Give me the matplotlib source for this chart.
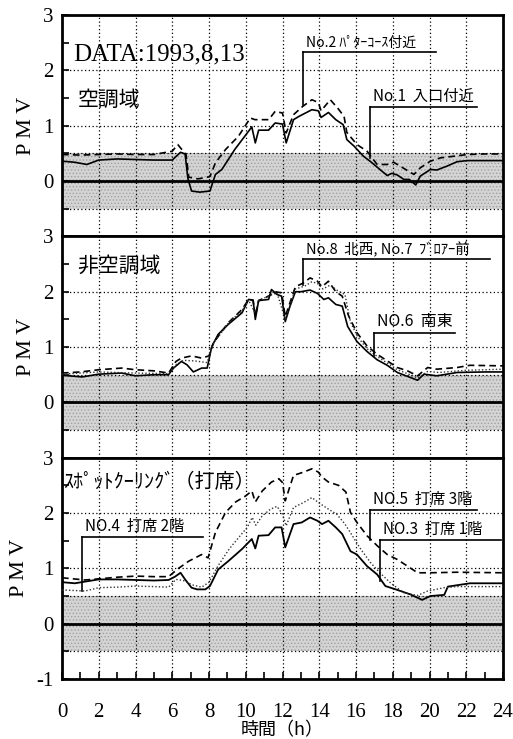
import matplotlib
matplotlib.use('Agg')
import matplotlib.pyplot as plt
from matplotlib.ticker import MultipleLocator

plt.rcParams['font.family'] = ['Noto Sans CJK JP', 'DejaVu Sans']
plt.rcParams['hatch.color'] = '#9a9a9a'
plt.rcParams['hatch.linewidth'] = 0.6

# 空調域
t_no1 = [0, 0.7, 1.35, 2.0, 3, 4, 5, 6.0, 6.45, 6.7, 6.85, 7.05, 7.5, 8.05, 8.35, 8.7, 9.4, 10.15, 10.33, 10.52,
         10.7, 11.24, 11.6, 12.0, 12.2, 12.6, 12.9, 13.6, 13.95, 14.1, 14.5, 14.9, 15.3, 15.5, 15.9, 16.4, 16.8,
         17.3, 17.7, 17.95, 18.25, 18.6, 18.9, 19.25, 19.5, 20.05, 20.4, 20.95, 21.5, 22.05, 23, 24]
v_no1 = [0.36, 0.34, 0.30, 0.38, 0.40, 0.39, 0.38, 0.38, 0.52, 0.49, 0.05, -0.18, -0.20, -0.18, 0.12, 0.21, 0.57,
         0.90, 0.98, 0.69, 0.92, 0.92, 1.05, 1.03, 0.69, 1.11, 1.17, 1.29, 1.27, 1.15, 1.24, 1.11, 1.02, 0.75,
         0.63, 0.45, 0.35, 0.21, 0.10, 0.14, 0.11, 0.03, 0.03, -0.07, 0.09, 0.21, 0.20, 0.27, 0.35, 0.37, 0.37, 0.37]
t_no2 = [0, 1, 2, 3, 4, 5, 6.0, 6.3, 6.75, 6.9, 7.4, 8.05, 8.35, 8.9, 9.6, 10.25, 10.5, 11.25, 11.6, 12.0, 12.2,
         12.6, 13.1, 13.6, 13.95, 14.1, 14.6, 15.0, 15.35, 15.5, 16.05, 16.6, 17.15, 17.7, 18.05, 18.4, 19.15,
         19.5, 20.05, 20.6, 21.35, 22.05, 23, 24]
v_no2 = [0.48, 0.47, 0.48, 0.49, 0.48, 0.48, 0.54, 0.66, 0.48, 0.07, 0.04, 0.08, 0.33, 0.57, 0.81, 1.14, 1.11,
         1.11, 1.26, 1.23, 0.87, 1.20, 1.35, 1.47, 1.42, 1.27, 1.47, 1.32, 1.17, 0.88, 0.66, 0.54, 0.30, 0.30,
         0.34, 0.27, 0.12, 0.24, 0.36, 0.42, 0.45, 0.48, 0.49, 0.49]

# 非空調域
t_no6 = [0, 1.1, 2, 3.25, 4, 5, 5.8, 6.07, 6.5, 6.8, 7.15, 7.6, 7.9, 8.15, 8.5, 9.05, 9.8, 10.15, 10.4, 10.52,
         10.7, 11.24, 11.4, 11.7, 11.95, 12.15, 12.4, 12.7, 13.0, 13.5, 13.9, 14.25, 14.5, 14.9, 15.25, 15.55,
         16.05, 16.6, 17.15, 17.7, 18.25, 18.8, 19.35, 19.7, 20.4, 21.5, 23, 24]
v_no6 = [0.49, 0.46, 0.51, 0.53, 0.48, 0.50, 0.50, 0.62, 0.74, 0.68, 0.55, 0.62, 0.62, 1.01, 1.23, 1.41, 1.62,
         1.86, 1.85, 1.50, 1.84, 1.86, 2.04, 1.95, 1.92, 1.46, 1.73, 2.00, 2.00, 2.03, 1.97, 1.86, 1.89, 1.77,
         1.74, 1.37, 1.10, 0.92, 0.77, 0.67, 0.54, 0.47, 0.40, 0.51, 0.48, 0.54, 0.55, 0.55]
t_no8 = [0, 1, 2, 3.25, 4, 5, 5.8, 6.2, 6.5, 7.05, 7.6, 8.0, 8.25, 9.05, 9.8, 10.15, 10.4, 10.52, 10.7, 11.24,
         11.6, 11.95, 12.15, 12.7, 13.15, 13.5, 13.9, 14.15, 14.5, 14.9, 15.25, 15.6, 16.05, 16.6, 17.15, 17.7,
         18.25, 18.8, 19.35, 19.9, 20.4, 21.5, 22.2, 24]
v_no8 = [0.53, 0.55, 0.59, 0.62, 0.59, 0.57, 0.53, 0.74, 0.80, 0.84, 0.80, 0.84, 1.08, 1.44, 1.68, 1.86, 1.84,
         1.55, 1.84, 1.92, 2.00, 1.98, 1.55, 2.09, 2.16, 2.25, 2.19, 2.09, 2.19, 2.00, 1.92, 1.56, 1.26, 1.02,
         0.87, 0.75, 0.63, 0.57, 0.48, 0.63, 0.60, 0.63, 0.67, 0.66]
t_no7 = [0, 2, 4, 5.8, 6.2, 6.6, 7.2, 7.9, 8.2, 9.05, 9.8, 10.15, 10.5, 10.7, 11.3, 11.7, 12.15, 12.7, 13.2,
         13.6, 13.9, 14.2, 14.6, 15.0, 15.4, 15.7, 16.1, 16.6, 17.15, 17.7, 18.25, 18.8, 19.35, 19.9, 20.5, 22, 24]
v_no7 = [0.51, 0.55, 0.53, 0.52, 0.68, 0.76, 0.75, 0.72, 1.05, 1.43, 1.66, 1.85, 1.62, 1.84, 1.93, 1.98, 1.50,
         2.05, 2.10, 2.18, 2.15, 2.05, 2.12, 2.02, 1.95, 1.45, 1.18, 0.97, 0.83, 0.71, 0.59, 0.52, 0.44, 0.56,
         0.54, 0.58, 0.60]

# スポットクーリング（打席）
t_no3 = [0, 0.7, 1.25, 2, 3, 4, 5, 5.8, 6.15, 6.45, 6.7, 7.05, 7.35, 7.8, 8.05, 8.5, 9.05, 9.8, 10.33, 10.52,
         10.7, 11.24, 11.6, 11.95, 12.15, 12.6, 13.05, 13.5, 13.9, 14.15, 14.5, 14.9, 15.25, 15.7, 16.05, 16.6,
         17.15, 17.6, 18.25, 18.95, 19.6, 20.05, 20.8, 21.0, 22.2, 24]
v_no3 = [0.75, 0.73, 0.76, 0.80, 0.80, 0.79, 0.78, 0.79, 0.85, 0.92, 0.80, 0.65, 0.62, 0.62, 0.68, 0.98, 1.13,
         1.35, 1.53, 1.36, 1.59, 1.60, 1.74, 1.74, 1.38, 1.80, 1.83, 1.92, 1.86, 1.80, 1.86, 1.74, 1.62, 1.31,
         1.25, 1.04, 0.89, 0.68, 0.61, 0.53, 0.43, 0.50, 0.52, 0.67, 0.73, 0.73]
t_no5 = [0, 1.25, 2, 3, 4, 5, 5.8, 6.3, 6.9, 7.6, 7.95, 8.35, 8.9, 9.45, 10.0, 10.33, 10.52, 10.9, 11.4, 11.8,
         12.0, 12.15, 12.6, 13.15, 13.6, 13.95, 14.15, 14.5, 15.05, 15.45, 15.7, 16.05, 16.6, 17.15, 17.7, 18.25,
         18.8, 19.35, 20.05, 21.5, 24]
v_no5 = [0.83, 0.79, 0.81, 0.84, 0.86, 0.85, 0.85, 0.99, 1.13, 1.25, 1.19, 1.65, 2.01, 2.20, 2.31, 2.40, 2.20,
         2.40, 2.56, 2.62, 2.55, 2.22, 2.68, 2.74, 2.80, 2.74, 2.65, 2.56, 2.50, 2.38, 2.01, 1.83, 1.59, 1.41,
         1.25, 1.16, 1.04, 0.92, 0.92, 0.93, 0.92]
t_no4 = [0, 1.25, 2, 3, 4, 5, 5.8, 6.2, 6.6, 7.1, 7.6, 8.0, 8.5, 9.1, 9.6, 10.1, 10.35, 10.55, 10.9, 11.35, 11.7,
         12.0, 12.2, 12.6, 13.15, 13.6, 13.95, 14.5, 14.95, 15.4, 15.8, 16.25, 16.8, 17.3, 17.9, 18.6, 19.35,
         19.9, 20.8, 21.5, 24]
v_no4 = [0.61, 0.59, 0.65, 0.66, 0.68, 0.67, 0.66, 0.80, 0.78, 0.70, 0.66, 0.75, 1.05, 1.35, 1.55, 1.75, 1.92,
         1.78, 1.95, 2.07, 2.12, 1.98, 1.77, 2.10, 2.19, 2.28, 2.19, 2.07, 1.98, 1.80, 1.59, 1.35, 1.10, 0.92,
         0.73, 0.56, 0.51, 0.59, 0.65, 0.67, 0.67]

num_font = 'Liberation Serif'

fig = plt.figure(figsize=(5.13, 7.39), dpi=100)
left, width = 62 / 513, 441 / 513
bottom, height = 60 / 739, 221.3 / 739
axes = []
for i in range(3):
    ax = fig.add_axes([left, bottom + (2 - i) * height, width, height])
    axes.append(ax)

for i, ax in enumerate(axes):
    ax.set_xlim(0, 24)
    ax.set_ylim(-1, 3)
    ax.axhspan(-0.5, 0.5, facecolor='#d4d4d4', edgecolor='#a0a0a0', hatch='.....', linewidth=0, zorder=0)
    for x in range(2, 24, 2):
        ax.axvline(x, color='black', linestyle=(0, (1, 2)), linewidth=0.9, zorder=1)
    for y in [-0.5, 0.5, 1, 2]:
        ax.axhline(y, color='black', linestyle=(0, (1, 2)), linewidth=0.9, zorder=1)
    ax.axhline(0, color='black', linewidth=2.0, zorder=2)
    for s in ax.spines.values():
        s.set_linewidth(2.0)
    ax.yaxis.set_major_locator(MultipleLocator(1))
    ax.yaxis.set_minor_locator(MultipleLocator(0.5))
    ax.xaxis.set_major_locator(MultipleLocator(2))
    ax.xaxis.set_minor_locator(MultipleLocator(1))
    ax.tick_params(which='both', direction='in', top=False, right=False, width=1.2, length=5)
    ax.tick_params(axis='y', labelsize=15, pad=6)
    ax.tick_params(axis='x', labelsize=15, pad=17)
    if i < 2:
        ax.set_yticks([0, 1, 2, 3])
        ax.tick_params(axis='x', which='both', bottom=False, labelbottom=False)
    else:
        ax.set_yticks([-1, 0, 1, 2, 3])
    ax.set_yticklabels([f'{int(v)}' for v in ax.get_yticks()], fontfamily=num_font, fontsize=15)
    ax.set_ylabel('P M V', fontfamily=num_font, fontsize=16, labelpad=5)

axes[2].set_xticks(range(0, 25, 2))
axes[2].set_xticklabels([str(x) for x in range(0, 25, 2)], fontfamily=num_font, fontsize=15)
axes[2].set_xlabel('時間（h）', fontsize=13, labelpad=0)


def leader(ax, text, x0, x1, y, y_end, size=10):
    ax.plot([x0, x1], [y, y], color='black', linewidth=1.2, zorder=5)
    ax.plot([x0, x0], [y, y_end], color='black', linewidth=1.2, zorder=5)
    ax.text(x0 + 0.15, y + 0.04, text, fontsize=size, va='bottom', ha='left', zorder=6)


ax = axes[0]
ax.plot(t_no1, v_no1, color='black', linewidth=1.2, zorder=4)
ax.plot(t_no2, v_no2, color='black', linewidth=1.2, linestyle=(0, (4, 2.5)), zorder=4)
ax.text(0.6, 2.29, 'DATA:1993,8,13', fontfamily=num_font, fontsize=18, va='center')
ax.text(0.85, 1.47, '空調域', fontsize=15, va='center')
leader(ax, 'No.2 ﾊﾟﾀｰｺｰｽ付近', 13.13, 20.35, 2.34, 1.38, size=10)
leader(ax, 'No.1  入口付近', 16.75, 22.6, 1.33, 0.42, size=11)

ax = axes[1]
ax.plot(t_no6, v_no6, color='black', linewidth=1.2, zorder=4)
ax.plot(t_no8, v_no8, color='black', linewidth=1.2, linestyle=(0, (4, 2.5)), zorder=4)
ax.plot(t_no7, v_no7, color='#333333', linewidth=1.0, linestyle=(0, (1, 1.5)), zorder=4)
ax.text(0.85, 2.46, '非空調域', fontsize=15, va='center')
leader(ax, 'No.8  北西, No.7  ﾌﾞﾛｱｰ前', 13.13, 23.3, 2.59, 2.13, size=10.5)
leader(ax, 'NO.6  南東', 17.0, 21.4, 1.26, 0.83, size=11.5)

ax = axes[2]
ax.plot(t_no3, v_no3, color='black', linewidth=1.3, zorder=4)
ax.plot(t_no5, v_no5, color='black', linewidth=1.2, linestyle=(0, (4, 2.5)), zorder=4)
ax.plot(t_no4, v_no4, color='#333333', linewidth=1.0, linestyle=(0, (1, 1.5)), zorder=4)
ax.text(0.05, 2.56, 'ｽﾎﾟｯﾄｸｰﾘﾝｸﾞ（打席）', fontsize=14.5, va='center')
leader(ax, 'NO.4  打席 2階', 1.09, 7.68, 1.56, 0.59, size=11)
leader(ax, 'NO.5  打席 3階', 16.75, 22.6, 2.05, 1.51, size=11)
leader(ax, 'NO.3  打席 1階', 17.3, 23.9, 1.51, 0.77, size=11)

fig.savefig('out.png', dpi=100)
